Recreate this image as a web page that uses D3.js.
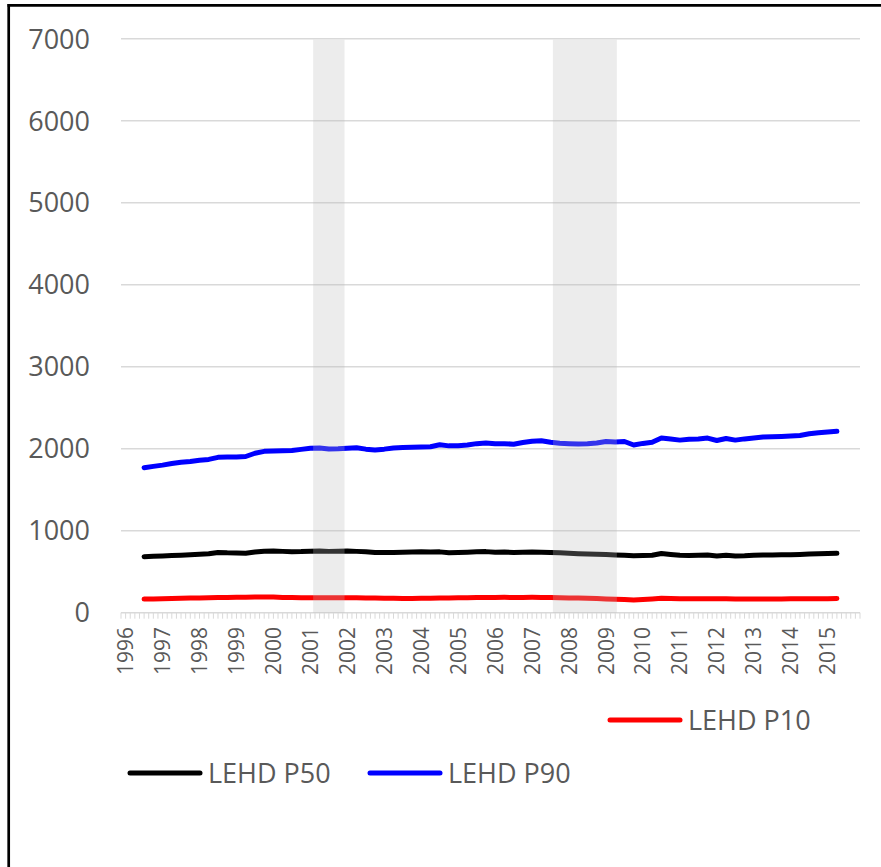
<!DOCTYPE html>
<html>
<head>
<meta charset="utf-8">
<script src="https://cdn.jsdelivr.net/npm/d3@7"></script>
<style>
  body { margin: 0; background: #fff; }
  text { font-family: 'Open Sans', sans-serif; fill: #595959; }
</style>
</head>
<body>
<div id="chart"></div>
<script>
const width = 881;
const height = 867;

// Year labels on the category axis (quarterly categories)
const years = [1996, 1997, 1998, 1999, 2000, 2001, 2002, 2003, 2004, 2005,
  2006, 2007, 2008, 2009, 2010, 2011, 2012, 2013, 2014, 2015];
const quarters = years.flatMap(y => ['Q1', 'Q2', 'Q3', 'Q4'].map(q => y + q));
const firstQuarter = '1996Q3';

const yTicks = [0, 1000, 2000, 3000, 4000, 5000, 6000, 7000];

// Recessions, as decimal years
const recessions = [[2001.2, 2002.05], [2007.69, 2009.42]];

// Series values, quarterly from 1996Q3 to 2015Q2
const p10 = [166, 168, 170, 172, 175, 178, 180, 182, 185, 186, 187, 188, 190, 191, 190, 186,
  184, 183, 183, 183, 182, 182, 183, 182, 180, 178, 176, 175, 174, 174, 175, 176,
  178, 180, 182, 183, 184, 185, 186, 187, 186, 186, 187, 186, 184, 182, 180, 178,
  175, 172, 168, 165, 162, 156, 162, 168, 175, 172, 170, 170, 170, 170, 170, 169,
  168, 168, 168, 168, 168, 168, 169, 170, 170, 171, 171, 172];

const p50 = [683, 688, 692, 697, 702, 707, 712, 718, 735, 730, 728, 726, 740, 750, 752, 748,
  744, 745, 750, 752, 748, 750, 752, 748, 742, 735, 733, 735, 738, 740, 742, 740,
  742, 730, 735, 738, 742, 745, 738, 740, 735, 738, 740, 738, 735, 730, 725, 720,
  715, 712, 710, 705, 702, 695, 698, 700, 722, 710, 700, 698, 702, 704, 692, 700,
  693, 695, 700, 705, 705, 706, 706, 710, 715, 720, 722, 724];

const p90 = [1768, 1785, 1800, 1820, 1835, 1845, 1860, 1870, 1895, 1898, 1900, 1905, 1945, 1968, 1972, 1975,
  1978, 1992, 2005, 2008, 1998, 2000, 2005, 2012, 1995, 1985, 1995, 2010, 2015, 2018, 2022, 2025,
  2048, 2035, 2035, 2045, 2062, 2070, 2060, 2062, 2055, 2075, 2092, 2098, 2078, 2068, 2062, 2058,
  2060, 2070, 2088, 2082, 2088, 2045, 2065, 2080, 2132, 2118, 2105, 2115, 2118, 2130, 2100, 2125,
  2105, 2120, 2130, 2142, 2145, 2150, 2155, 2162, 2182, 2195, 2205, 2212];

const seriesNames = ['LEHD P10', 'LEHD P50', 'LEHD P90'];
const seriesColors = ['#ff0000', '#000000', '#0000ff'];

const svg = d3.select('#chart').append('svg')
  .attr('width', width)
  .attr('height', height);

// X-Axis (category bands)
const x = d3.scaleBand()
  .domain(quarters)
  .range([121, 860])
  .padding(0);
const bw = x.bandwidth();
const cx = q => x(q) + bw / 2;
const yearX = d3.scaleLinear().domain([1996, 2016]).range([121, 860]);

// Y-Axis
const y = d3.scaleLinear()
  .domain([0, 7000])
  .range([612.7, 38.8]);

// Gridlines
svg.append('g')
  .selectAll('line')
  .data(yTicks)
  .join('line')
    .attr('x1', 121)
    .attr('x2', 860)
    .attr('y1', d => y(d))
    .attr('y2', d => y(d))
    .attr('stroke', '#d9d9d9')
    .attr('stroke-width', 1.5);

svg.append('g')
  .selectAll('text')
  .data(yTicks)
  .join('text')
    .attr('x', 90)
    .attr('y', d => y(d))
    .attr('dy', '0.36em')
    .attr('text-anchor', 'end')
    .attr('font-size', 27)
    .text(d => d);

// Axis tick marks (dense, every half category)
const tickPos = d3.range(quarters.length * 2 + 1).map(i => 121 + i * bw / 2);
svg.append('g')
  .selectAll('line')
  .data(tickPos)
  .join('line')
    .attr('x1', d => d)
    .attr('x2', d => d)
    .attr('y1', y(0))
    .attr('y2', y(0) + 6)
    .attr('stroke', '#d9d9d9')
    .attr('stroke-width', 1);

svg.append('g')
  .selectAll('text')
  .data(years)
  .join('text')
    .attr('transform', d => `translate(${cx(d + 'Q1')},627) rotate(-90)`)
    .attr('dy', '0.36em')
    .attr('text-anchor', 'end')
    .attr('font-size', 21)
    .text(d => d);

// Lines
const start = quarters.indexOf(firstQuarter);
const line = d3.line()
  .x((d, i) => cx(quarters[start + i]))
  .y(d => y(d))
  .curve(d3.curveLinear);

[p10, p50, p90].forEach((s, i) => {
  svg.append('path')
    .datum(s)
    .attr('d', line)
    .attr('fill', 'none')
    .attr('stroke', seriesColors[i])
    .attr('stroke-width', 5)
    .attr('stroke-linecap', 'round')
    .attr('stroke-linejoin', 'round');
});

// Recession shading, drawn over the lines
svg.append('g')
  .selectAll('rect')
  .data(recessions)
  .join('rect')
    .attr('x', d => yearX(d[0]))
    .attr('width', d => yearX(d[1]) - yearX(d[0]))
    .attr('y', y(7000) + 1)
    .attr('height', y(0) - y(7000) - 1)
    .attr('fill', 'rgb(185,185,185)')
    .attr('fill-opacity', 0.275);

// Legend
const legendPos = [[610, 720], [130, 773], [370, 773]];
const legend = svg.append('g')
  .selectAll('g')
  .data(seriesNames)
  .join('g')
    .attr('transform', (d, i) => `translate(${legendPos[i][0]},${legendPos[i][1]})`);

legend.append('line')
  .attr('x1', 0)
  .attr('x2', 70)
  .attr('stroke', (d, i) => seriesColors[i])
  .attr('stroke-width', 5)
  .attr('stroke-linecap', 'round');

legend.append('text')
  .attr('x', 78)
  .attr('dy', '0.36em')
  .attr('font-size', 27)
  .text(d => d);

// Outer frame (top and left edges)
svg.append('line')
  .attr('x1', 7.5).attr('x2', width)
  .attr('y1', 5.3).attr('y2', 5.3)
  .attr('stroke', '#000').attr('stroke-width', 2.7);
svg.append('line')
  .attr('x1', 8.7).attr('x2', 8.7)
  .attr('y1', 4).attr('y2', height)
  .attr('stroke', '#000').attr('stroke-width', 2.7);
</script>
</body>
</html>
